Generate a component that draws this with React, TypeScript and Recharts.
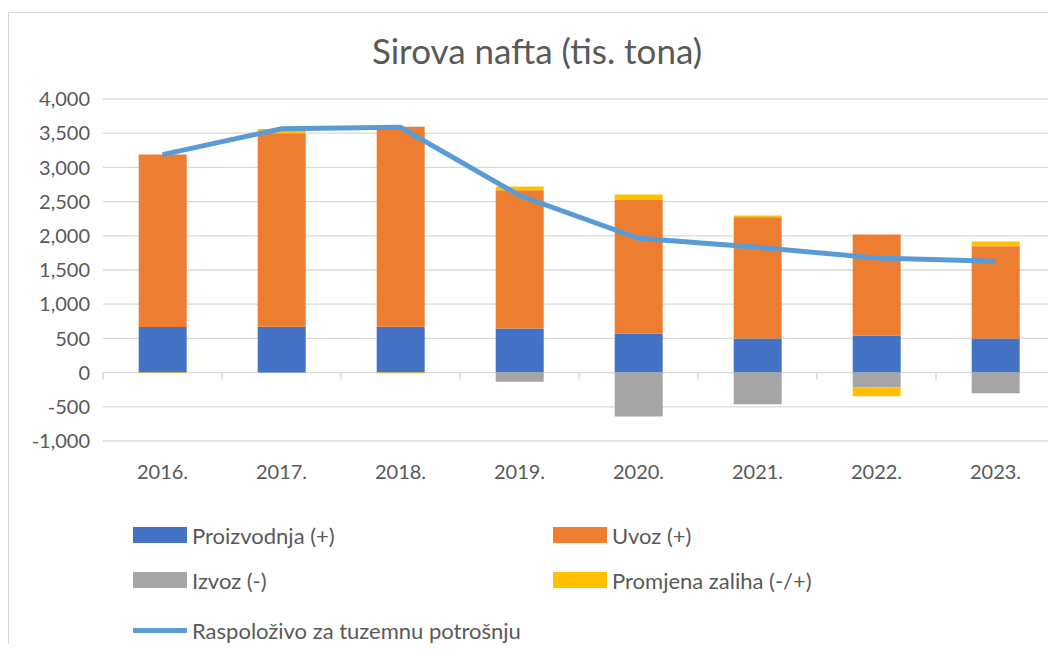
import React from 'react';
import { ComposedChart, Bar, Line, XAxis, YAxis, CartesianGrid } from 'recharts';

const years = ['2016.', '2017.', '2018.', '2019.', '2020.', '2021.', '2022.', '2023.'];
const proizvodnja = [665, 672, 672, 643, 570, 497, 541, 497];
const uvoz = [2525, 2827, 2924, 2022, 1959, 1774, 1477, 1350];
const izvoz = [0, 0, 0, -132, -643, -463, -219, -302];
const zaliha = [-5, 64, -10, 54, 73, 24, -127, 68];
const raspolozivo = [3187, 3565, 3587, 2588, 1963, 1832, 1677, 1627];
const yTicks = [-1000, -500, 0, 500, 1000, 1500, 2000, 2500, 3000, 3500, 4000];

const FONT = 'Lato, "Open Sans", sans-serif';
const TXT = '#595959';
const GRID = '#d9d9d9';

const W = 1056;
const H = 652;
const X_H = 30;
const M = { top: 99, right: 1, bottom: 211 - X_H, left: 10 };
const Y_W = 93;
const plotLeft = M.left + Y_W;
const plotW = W - M.right - plotLeft;
const plotH = H - M.top - M.bottom - X_H;
const band = plotW / years.length;
const zeroY = M.top + (plotH * 4000) / 5000;

const data = years.map((y, i) => ({
  year: y,
  proizvodnja: proizvodnja[i],
  uvoz: uvoz[i],
  izvoz: izvoz[i],
  zaliha: zaliha[i],
  raspolozivo: raspolozivo[i],
}));

const fmt = (v: number) => v.toLocaleString('en-US');

// x labels at the bottom, tick marks sit on the zero line between categories
const XTick = (props: any) => {
  const { x, y, payload, index } = props;
  return (
    <g>
      <line x1={x - band / 2} x2={x - band / 2} y1={zeroY} y2={zeroY + 7} stroke={GRID} strokeWidth={1.5} />
      {index === years.length - 1 && (
        <line x1={x + band / 2} x2={x + band / 2} y1={zeroY} y2={zeroY + 7} stroke={GRID} strokeWidth={1.5} />
      )}
      <text x={x} y={y} dy={38} textAnchor="middle" fill={TXT} fontSize={20} fontFamily={FONT}>
        {payload.value}
      </text>
    </g>
  );
};

const legendItems = [
  { label: 'Proizvodnja (+)', color: '#4472c4', x: 133, y: 535 },
  { label: 'Uvoz (+)', color: '#ed7d31', x: 553, y: 535 },
  { label: 'Izvoz (-)', color: '#a5a5a5', x: 133, y: 580 },
  { label: 'Promjena zaliha (-/+)', color: '#ffc000', x: 553, y: 580 },
];

const App = () => {
  return (
    <div style={{ position: 'relative', width: W, height: H, margin: -8, background: '#fff', fontFamily: FONT }}>
      <div
        style={{
          position: 'absolute',
          left: 8,
          top: 12,
          width: W - 8,
          height: H - 12,
          borderLeft: `1.5px solid ${GRID}`,
          borderTop: `1.5px solid ${GRID}`,
        }}
      />
      <div
        style={{
          position: 'absolute',
          left: 0,
          width: W + 18,
          top: 28,
          textAlign: 'center',
          fontSize: 35,
          color: TXT,
          lineHeight: '44px',
        }}
      >
        Sirova nafta (tis. tona)
      </div>
      <div style={{ position: 'absolute', left: 0, top: 0 }}>
        <ComposedChart width={W} height={H} data={data} margin={M} stackOffset="sign" barCategoryGap="30%">
          <CartesianGrid vertical={false} stroke={GRID} strokeWidth={1.3} />
          <XAxis
            dataKey="year"
            height={X_H}
            axisLine={false}
            tickLine={false}
            tickSize={0}
            tickMargin={0}
            interval={0}
            tick={<XTick />}
          />
          <YAxis
            width={Y_W}
            domain={[-1000, 4000]}
            ticks={yTicks}
            axisLine={false}
            tickLine={false}
            tickSize={0}
            tickMargin={13}
            tickFormatter={fmt}
            tick={{ fill: TXT, fontSize: 20, fontFamily: FONT }}
          />
          <Bar dataKey="proizvodnja" stackId="a" fill="#4472c4" isAnimationActive={false} />
          <Bar dataKey="uvoz" stackId="a" fill="#ed7d31" isAnimationActive={false} />
          <Bar dataKey="izvoz" stackId="a" fill="#a5a5a5" isAnimationActive={false} />
          <Bar dataKey="zaliha" stackId="a" fill="#ffc000" isAnimationActive={false} />
          <Line
            dataKey="raspolozivo"
            stroke="#5b9bd5"
            strokeWidth={5}
            dot={false}
            activeDot={false}
            isAnimationActive={false}
          />
        </ComposedChart>
      </div>
      {legendItems.map((it) => (
        <div key={it.label} style={{ position: 'absolute', left: it.x, top: it.y - 14, height: 28, display: 'flex', alignItems: 'center' }}>
          <div style={{ width: 54, height: 16, background: it.color, marginRight: 5 }} />
          <span style={{ fontSize: 22, color: TXT }}>{it.label}</span>
        </div>
      ))}
      <div style={{ position: 'absolute', left: 133, top: 616, height: 28, display: 'flex', alignItems: 'center' }}>
        <div style={{ width: 54, height: 5, background: '#5b9bd5', marginRight: 5 }} />
        <span style={{ fontSize: 22, color: TXT }}>Raspoloživo za tuzemnu potrošnju</span>
      </div>
    </div>
  );
};

export default App;
